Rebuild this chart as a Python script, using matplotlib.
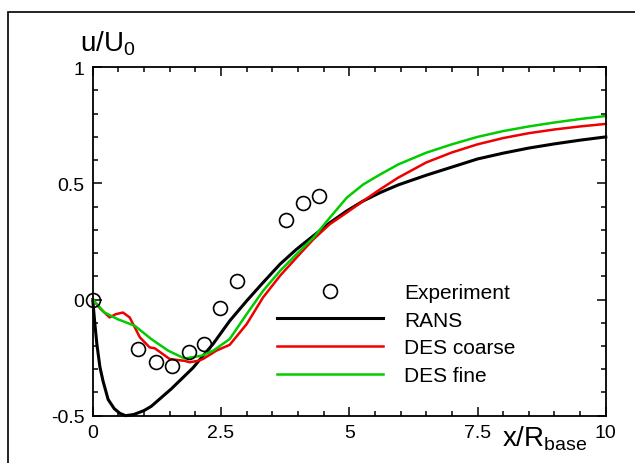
import matplotlib
matplotlib.use("Agg")
import matplotlib.pyplot as plt
from matplotlib.patches import Rectangle
from matplotlib.ticker import MultipleLocator

plt.rcParams['font.family'] = ['Liberation Sans', 'DejaVu Sans']
plt.rcParams['mathtext.default'] = 'regular'

# Experiment (open circles)
exp_x = [0.0, 0.88, 1.23, 1.55, 1.87, 2.17, 2.49, 2.81, 3.76, 4.09, 4.41]
exp_u = [0.0, -0.215, -0.27, -0.285, -0.225, -0.19, -0.037, 0.08, 0.342, 0.416, 0.446]

# RANS
rans_x = [0.0, 0.04, 0.08, 0.14, 0.20, 0.30, 0.42, 0.53, 0.64, 0.80, 1.0, 1.14,
          1.53, 1.95, 2.35, 2.67, 3.0, 3.32, 3.65, 3.97, 4.3, 4.62, 4.95, 5.27,
          5.6, 5.95, 6.5, 7.0, 7.5, 8.0, 8.5, 9.0, 9.5, 10.0]
rans_u = [0.0, -0.10, -0.19, -0.29, -0.35, -0.43, -0.47, -0.49, -0.50, -0.495, -0.478, -0.46,
          -0.385, -0.295, -0.19, -0.092, -0.006, 0.073, 0.152, 0.216, 0.274, 0.33, 0.381, 0.424,
          0.46, 0.493, 0.535, 0.57, 0.605, 0.63, 0.652, 0.67, 0.686, 0.70]

# DES coarse
desc_x = [0.0, 0.15, 0.33, 0.45, 0.59, 0.72, 0.92, 1.11, 1.21, 1.50, 1.79, 1.89,
          2.05, 2.15, 2.41, 2.67, 3.0, 3.32, 3.65, 3.97, 4.3, 4.62, 4.95, 5.27,
          5.6, 5.95, 6.5, 7.0, 7.5, 8.0, 8.5, 9.0, 9.5, 10.0]
desc_u = [0.0, -0.04, -0.077, -0.063, -0.056, -0.077, -0.163, -0.206, -0.21, -0.256, -0.264, -0.27,
          -0.264, -0.256, -0.22, -0.195, -0.106, 0.009, 0.102, 0.18, 0.259, 0.324, 0.374, 0.424,
          0.474, 0.524, 0.59, 0.633, 0.668, 0.695, 0.716, 0.732, 0.745, 0.756]

# DES fine
desf_x = [0.0, 0.23, 0.49, 0.82, 1.14, 1.47, 1.79, 2.12, 2.35, 2.67, 3.0, 3.32,
          3.65, 3.97, 4.3, 4.62, 4.95, 5.27, 5.6, 5.95, 6.5, 7.0, 7.5, 8.0,
          8.5, 9.0, 9.5, 10.0]
desf_u = [0.0, -0.056, -0.085, -0.113, -0.17, -0.22, -0.254, -0.242, -0.22, -0.17, -0.063, 0.037,
          0.123, 0.195, 0.266, 0.352, 0.438, 0.495, 0.538, 0.581, 0.632, 0.668, 0.70, 0.725,
          0.745, 0.762, 0.777, 0.79]

fig = plt.figure(figsize=(6.35, 4.64), dpi=100)
ax = fig.add_axes([0.146, 0.102, 0.808, 0.751])

ax.plot(exp_x, exp_u, linestyle='none', marker='o', markersize=10,
        markerfacecolor='none', markeredgecolor='black', markeredgewidth=1.2,
        label='Experiment', clip_on=False, zorder=5)
ax.plot(rans_x, rans_u, color='black', lw=2.2, label='RANS', clip_on=False)
ax.plot(desc_x, desc_u, color='#ee0000', lw=1.8, label='DES coarse', clip_on=False)
ax.plot(desf_x, desf_u, color='#00cc00', lw=1.8, label='DES fine', clip_on=False)

ax.set_xlim(0, 10)
ax.set_ylim(-0.5, 1)
ax.xaxis.set_major_locator(MultipleLocator(2.5))
ax.xaxis.set_minor_locator(MultipleLocator(0.5))
ax.yaxis.set_major_locator(MultipleLocator(0.5))
ax.yaxis.set_minor_locator(MultipleLocator(0.1))
ax.xaxis.set_major_formatter(plt.FuncFormatter(lambda v, p: f'{v:g}'))
ax.yaxis.set_major_formatter(plt.FuncFormatter(lambda v, p: f'{v:g}'))

ax.tick_params(which='both', direction='in', top=True, right=True, width=1.1)
ax.tick_params(which='major', length=6.5, labelsize=14, pad=6)
ax.tick_params(which='minor', length=3.5)
for s in ax.spines.values():
    s.set_linewidth(1.3)

leg = ax.legend(loc='upper left', bbox_to_anchor=(277 / 635, 1 - 284 / 464),
                bbox_transform=fig.transFigure, frameon=False,
                fontsize=15, handlelength=5.1, handletextpad=1.0,
                labelspacing=0.42, numpoints=1, borderpad=0, borderaxespad=0)

fig.text(80 / 635, 1 - 52 / 464, 'u/U$_0$', fontsize=20, va='baseline', ha='left')
fig.text(502 / 635, 1 - 447 / 464, 'x/R$_{base}$', fontsize=20, va='baseline', ha='left')

# outer frame around the plot
fig.patches.append(Rectangle((8 / 635, -0.1), 1.2, 1 - 13 / 464 + 0.1,
                             transform=fig.transFigure, fill=False,
                             edgecolor='black', linewidth=1.2))

fig.savefig('out.png', dpi=100)
